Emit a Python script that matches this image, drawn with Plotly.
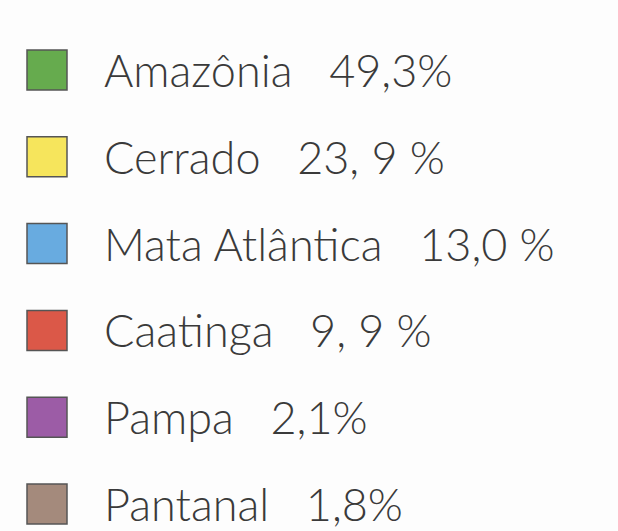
import plotly.graph_objects as go

biomes = ["Amazônia", "Cerrado", "Mata Atlântica", "Caatinga", "Pampa", "Pantanal"]
percent_labels = ["49,3%", "23, 9 %", "13,0 %", "9, 9 %", "2,1%", "1,8%"]
colors = ["#66ab4e", "#f6e55c", "#68abe0", "#db5848", "#9c5ca6", "#a48a7c"]

rows = list(range(len(biomes)))

fig = go.Figure()
fig.add_trace(go.Scatter(
    x=[0] * len(biomes),
    y=rows,
    mode="markers",
    marker=dict(symbol="square", size=40, color=colors,
                line=dict(color="#555555", width=1.5)),
    hoverinfo="skip",
    showlegend=False,
))

for r, name, pct in zip(rows, biomes, percent_labels):
    fig.add_annotation(
        x=0, y=r, xref="x", yref="y",
        text=f"{name}   {pct}",
        showarrow=False, xanchor="left", yanchor="middle",
        xshift=55,
        font=dict(family="Lato, Open Sans, sans-serif", size=45, color="#3a3a3a", weight=300),
    )

fig.update_xaxes(range=[-47, 571], visible=False, fixedrange=True)
fig.update_yaxes(range=[5.311, -0.806], visible=False, fixedrange=True)
fig.update_layout(
    width=618, height=531,
    margin=dict(l=0, r=0, t=0, b=0),
    paper_bgcolor="#fdfdfd",
    plot_bgcolor="#fdfdfd",
)
fig.write_html("out.html", config={"displayModeBar": False},
               post_script="document.body.style.margin='0';document.body.style.overflow='hidden';")
